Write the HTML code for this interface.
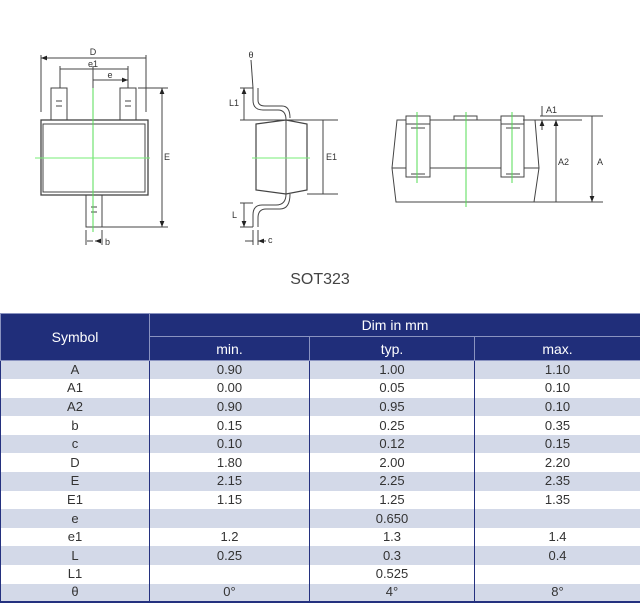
<!DOCTYPE html>
<html><head><meta charset="utf-8"><style>
body{margin:0;background:#fff;width:640px;height:603px;overflow:hidden;font-family:"Liberation Sans",sans-serif}
svg{position:absolute;left:0;top:0}
table{position:absolute;left:0;top:313px;width:640px;border-collapse:collapse;table-layout:fixed}
td{text-align:center;font-size:13px;color:#333;height:18.6px;padding:0;border-left:1px solid #24317f;border-right:1px solid #24317f;line-height:16px;box-sizing:border-box}
tr.r{height:18.6px}
th{background:#202e7a;color:#fff;font-weight:normal;font-size:14px;border:1px solid #8a93c0;padding:0}
tr.s td{background:#d3d9e8}
tr:last-child td{border-bottom:2px solid #24317f}
</style></head><body>
<svg width="640" height="300" viewBox="0 0 640 300" font-family="Liberation Sans, sans-serif" font-size="9" fill="none" stroke="#444" stroke-width="1">
<defs><marker id="a" viewBox="0 0 10 10" refX="10" refY="5" markerWidth="6" markerHeight="6" orient="auto-start-reverse"><path d="M0,1L10,5L0,9z" fill="#222" stroke="none"/></marker></defs>
<rect x="51" y="88" width="16" height="32"/><rect x="120" y="88" width="16" height="32"/>
<rect x="86" y="195" width="16" height="32"/>
<path d="M56 101h6M56 106h6M125 101h6M125 106h6M91 207h6M91 212h6"/>
<rect x="41" y="120" width="107" height="75" stroke-width="1.3"/>
<rect x="43" y="124" width="102" height="68"/>
<path d="M93 80V232" stroke="#5d5"/><path d="M35 158H150" stroke="#7e7"/>
<path d="M41 55V112M146 55V112M60 66V88M128 66V88M93 66V88"/>
<path d="M41 58H146M60 69H128M93 80H128" marker-start="url(#a)" marker-end="url(#a)"/>
<path d="M138 88H168M102 227H168M86 230V245M102 230V245"/>
<path d="M162 88V227" marker-start="url(#a)" marker-end="url(#a)"/>
<path d="M87 241H93M101 241H95" marker-end="url(#a)"/>
<g fill="#333" stroke="none"><text x="93" y="55" text-anchor="middle">D</text><text x="93" y="67" text-anchor="middle">e1</text><text x="110" y="78" text-anchor="middle">e</text><text x="164" y="160">E</text><text x="105" y="245">b</text></g>
<path d="M251 60L253 88" />
<path d="M253 88V100Q253 110 263 110H278Q286 110 286 120M258 88V100Q258 106 265 106H282Q290 106 290 118" />
<path d="M286 194Q286 205 276 205H262Q253 205 253 215V227M290 194Q290 209 280 209H266Q258 209 258 218V227"/>
<path d="M256 124L286 120L307 124V190L286 194L256 190Z" stroke-width="1.2"/>
<path d="M286 120V194"/>
<path d="M252 158H310" stroke="#7e7"/>
<path d="M240 88H253M240 120H338M240 227H253M240 203H253M307 194H338M253 230V245M258 230V245"/>
<path d="M244 88V120M323 120V194M244 203V227" marker-start="url(#a)" marker-end="url(#a)"/>
<path d="M245 241H253M266 241H258" marker-end="url(#a)"/>
<g fill="#333" stroke="none"><text x="251" y="58" text-anchor="middle">θ</text><text x="229" y="106">L1</text><text x="232" y="218">L</text><text x="326" y="160">E1</text><text x="268" y="243">c</text></g>
<path d="M397 120H535L539 168L534 202H396L392 168Z"/><path d="M392 168H539"/>
<rect x="406" y="116" width="24" height="61" fill="#fff"/><path d="M406 124H430M411 128H425M411 174H425"/>
<rect x="501" y="116" width="23" height="61" fill="#fff"/><path d="M501 124H524M506 128H520M506 174H520"/>
<rect x="454" y="116" width="23" height="4"/>
<path d="M417 112V183M466 112V207M512 112V183" stroke="#5d5"/>
<path d="M540 116H603M523 120H582M534 202H603"/>
<path d="M542 106V116M542 130V120" marker-end="url(#a)"/>
<path d="M556 120V202M592 116V202" marker-start="url(#a)" marker-end="url(#a)"/>
<g fill="#333" stroke="none"><text x="546" y="113">A1</text><text x="558" y="165">A2</text><text x="597" y="165">A</text></g>
<text x="320" y="284" text-anchor="middle" font-size="16" fill="#444" stroke="none">SOT323</text>
</svg>
<table>
<colgroup><col style="width:149px"><col style="width:160px"><col style="width:165px"><col style="width:166px"></colgroup>
<tr style="height:23px"><th rowspan="2">Symbol</th><th colspan="3">Dim in mm</th></tr>
<tr style="height:24px"><th>min.</th><th>typ.</th><th>max.</th></tr>
<tr class="r s"><td>A</td><td>0.90</td><td>1.00</td><td>1.10</td></tr>
<tr class="r"><td>A1</td><td>0.00</td><td>0.05</td><td>0.10</td></tr>
<tr class="r s"><td>A2</td><td>0.90</td><td>0.95</td><td>0.10</td></tr>
<tr class="r"><td>b</td><td>0.15</td><td>0.25</td><td>0.35</td></tr>
<tr class="r s"><td>c</td><td>0.10</td><td>0.12</td><td>0.15</td></tr>
<tr class="r"><td>D</td><td>1.80</td><td>2.00</td><td>2.20</td></tr>
<tr class="r s"><td>E</td><td>2.15</td><td>2.25</td><td>2.35</td></tr>
<tr class="r"><td>E1</td><td>1.15</td><td>1.25</td><td>1.35</td></tr>
<tr class="r s"><td>e</td><td></td><td>0.650</td><td></td></tr>
<tr class="r"><td>e1</td><td>1.2</td><td>1.3</td><td>1.4</td></tr>
<tr class="r s"><td>L</td><td>0.25</td><td>0.3</td><td>0.4</td></tr>
<tr class="r"><td>L1</td><td></td><td>0.525</td><td></td></tr>
<tr class="r s"><td>θ</td><td>0°</td><td>4°</td><td>8°</td></tr>
</table>
</body></html>
